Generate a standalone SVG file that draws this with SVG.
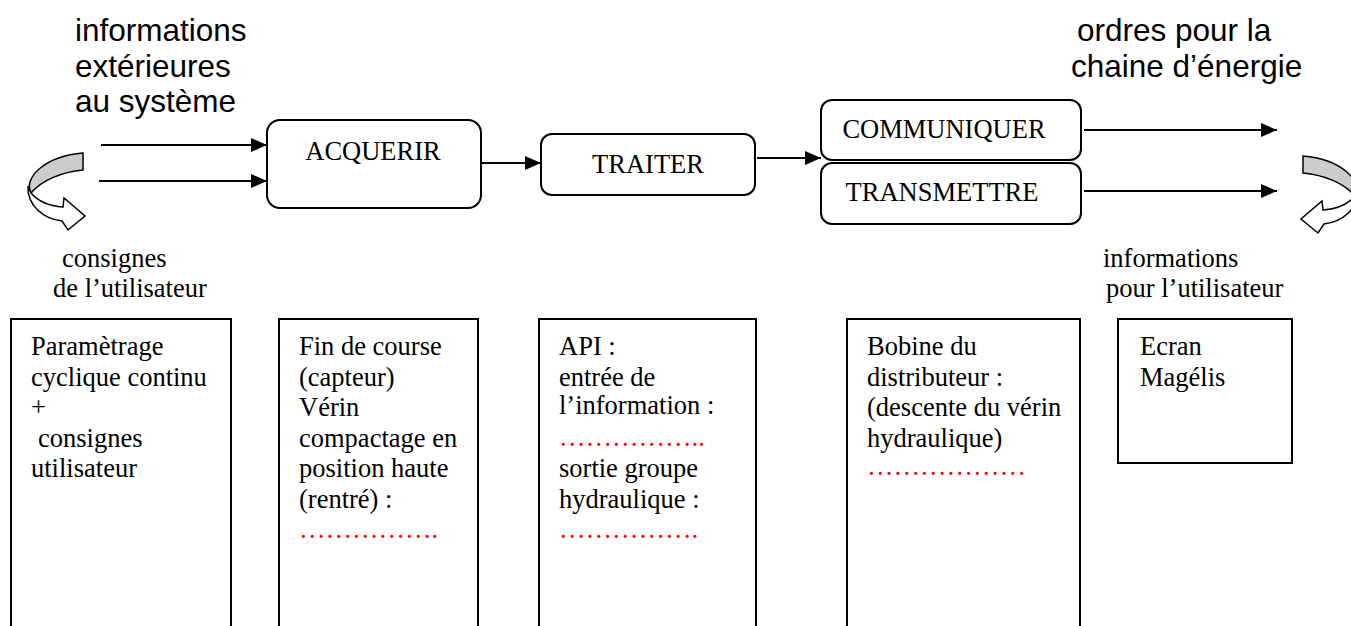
<svg xmlns="http://www.w3.org/2000/svg" width="1351" height="626" viewBox="0 0 1351 626">
<defs>
<style>
.sans{font-family:"Liberation Sans",Arial,sans-serif;font-size:31.5px;fill:#000}
.serif{font-family:"Liberation Serif","Times New Roman",serif;font-size:26.5px;fill:#000}
.red{fill:#ff0000}
.box{fill:#fff;stroke:#000;stroke-width:2}
.conn{stroke:#000;stroke-width:2;fill:none}
.mid{text-anchor:middle}
</style>
<marker id="ah" markerWidth="16" markerHeight="14" refX="16" refY="7" orient="auto" markerUnits="userSpaceOnUse">
<path d="M0,0 L16,7 L0,14 Z" fill="#000"/>
</marker>
<g id="curl">
<path d="M83,153 L83,170 C62,172 42,180 31,193 C23,178 45,156 83,153 Z" fill="#cccccc" stroke="#000" stroke-width="1.5"/>
<path d="M28,186 C27,206 44,219 62,221 L68,230 L85,216 L64,198 L63,207 C48,206 37,200 31,193 Z" fill="#fff" stroke="#000" stroke-width="1.5"/>
</g>
</defs>

<g id="title-left">
<text class="sans" x="75" y="41">informations</text>
<text class="sans" x="75" y="77">extérieures</text>
<text class="sans" x="75" y="112">au système</text>
</g>
<g id="title-right">
<text class="sans" x="1077" y="41">ordres pour la</text>
<text class="sans" x="1071" y="77">chaine d’énergie</text>
</g>

<g id="connectors">
<line class="conn" x1="101" y1="145" x2="267" y2="145" marker-end="url(#ah)"/>
<line class="conn" x1="99" y1="181" x2="267" y2="181" marker-end="url(#ah)"/>
<line class="conn" x1="481" y1="163" x2="541" y2="163" marker-end="url(#ah)"/>
<line class="conn" x1="757" y1="158" x2="821" y2="158" marker-end="url(#ah)"/>
<line class="conn" x1="1084" y1="130" x2="1277" y2="130" marker-end="url(#ah)"/>
<line class="conn" x1="1084" y1="191" x2="1277" y2="191" marker-end="url(#ah)"/>
</g>

<g id="curl-left"><use href="#curl"/></g>
<g id="curl-right"><use href="#curl" transform="translate(1386,3) scale(-1,1)"/></g>

<g id="acquerir">
<rect class="box" x="267" y="120" width="214" height="88" rx="13"/>
<text class="serif mid" x="373" y="160">ACQUERIR</text>
</g>
<g id="traiter">
<rect class="box" x="541" y="134" width="214" height="61" rx="11"/>
<text class="serif mid" x="648" y="173">TRAITER</text>
</g>
<g id="communiquer">
<rect class="box" x="821" y="100" width="260" height="60" rx="11"/>
<text class="serif mid" x="944" y="138">COMMUNIQUER</text>
</g>
<g id="transmettre">
<rect class="box" x="821" y="163" width="260" height="61" rx="11"/>
<text class="serif mid" x="942" y="201">TRANSMETTRE</text>
</g>

<g id="label-consignes">
<text class="serif" x="62" y="267">consignes</text>
<text class="serif" x="53" y="297">de l’utilisateur</text>
</g>
<g id="label-informations">
<text class="serif" x="1103" y="267">informations</text>
<text class="serif" x="1106" y="297">pour l’utilisateur</text>
</g>

<g id="box-parametrage">
<rect class="box" x="11" y="319" width="220" height="330"/>
<text class="serif" x="31" y="355">Paramètrage</text>
<text class="serif" x="31" y="385.6">cyclique continu</text>
<text class="serif" x="31" y="416">+</text>
<text class="serif" x="38" y="447">consignes</text>
<text class="serif" x="31" y="477">utilisateur</text>
</g>
<g id="box-fin-de-course">
<rect class="box" x="279" y="319" width="199" height="330"/>
<text class="serif" x="299" y="355">Fin de course</text>
<text class="serif" x="299" y="385.6">(capteur)</text>
<text class="serif" x="299" y="416">Vérin</text>
<text class="serif" x="299" y="447">compactage en</text>
<text class="serif" x="299" y="477">position haute</text>
<text class="serif" x="299" y="508">(rentré) :</text>
<text class="serif red" x="299" y="538">…………….</text>
</g>
<g id="box-api">
<rect class="box" x="539" y="319" width="217" height="330"/>
<text class="serif" x="559" y="355">API :</text>
<text class="serif" x="559" y="385.6">entrée de</text>
<text class="serif" x="559" y="414">l’information :</text>
<text class="serif red" x="559" y="446">……………..</text>
<text class="serif" x="559" y="477">sortie groupe</text>
<text class="serif" x="559" y="508">hydraulique :</text>
<text class="serif red" x="559" y="538">…………….</text>
</g>
<g id="box-bobine">
<rect class="box" x="847" y="319" width="233" height="330"/>
<text class="serif" x="867" y="355">Bobine du</text>
<text class="serif" x="867" y="385.6">distributeur :</text>
<text class="serif" x="867" y="416">(descente du vérin</text>
<text class="serif" x="867" y="447">hydraulique)</text>
<text class="serif red" x="867" y="475">………………</text>
</g>
<g id="box-ecran">
<rect class="box" x="1118" y="319" width="174" height="144"/>
<text class="serif" x="1140" y="355">Ecran</text>
<text class="serif" x="1140" y="385.6">Magélis</text>
</g>
</svg>
